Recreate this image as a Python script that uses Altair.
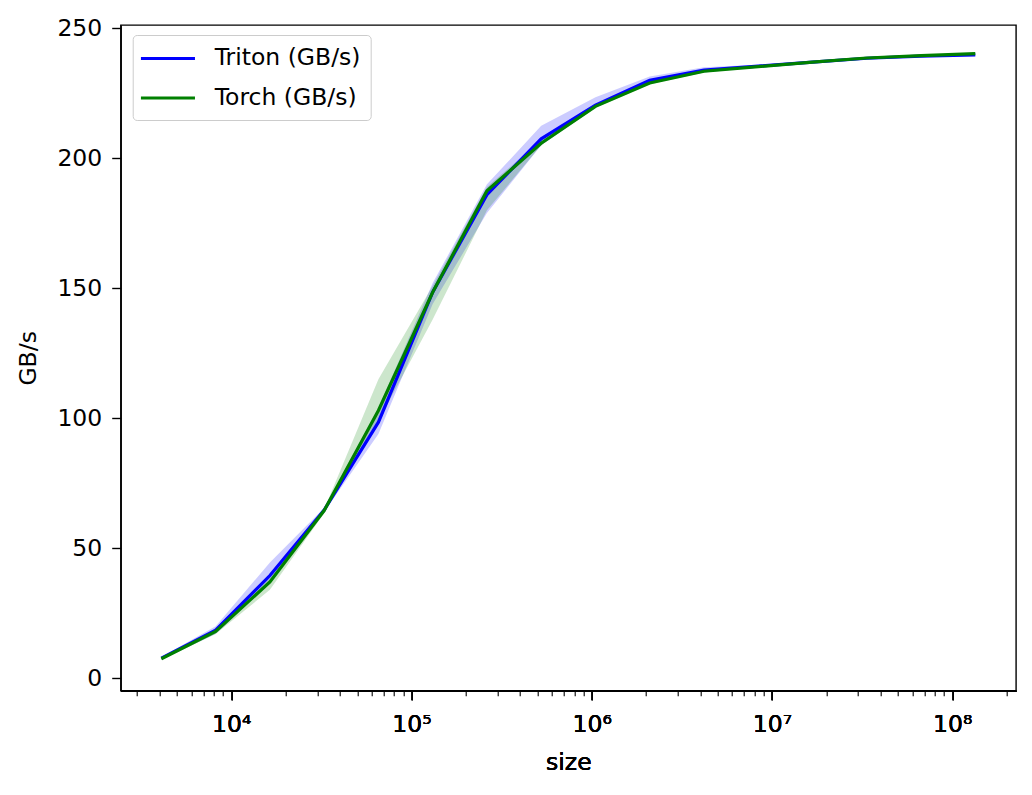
import pandas as pd
import altair as alt

# vector sizes (2^12 .. 2^27)
sizes = [4096, 8192, 16384, 32768, 65536, 131072, 262144, 524288,
         1048576, 2097152, 4194304, 8388608, 16777216, 33554432,
         67108864, 134217728]

triton = [7.7, 18.5, 39.5, 64.7, 98.5, 148.5, 186.0, 207.5,
          220.5, 230.0, 234.0, 235.5, 237.0, 238.5, 239.3, 239.8]
triton_lo = [7.2, 17.0, 36.5, 64.0, 94.0, 144.0, 179.0, 205.0,
             219.5, 229.0, 233.0, 235.0, 236.5, 238.0, 239.0, 239.6]
triton_hi = [8.2, 20.0, 44.5, 65.5, 104.0, 152.0, 190.0, 212.5,
             223.5, 231.5, 235.0, 236.0, 237.5, 239.0, 239.6, 240.0]

torch = [7.5, 18.0, 37.0, 64.5, 103.0, 148.5, 187.5, 205.8,
         220.0, 229.0, 233.5, 235.3, 237.0, 238.6, 239.5, 240.3]
torch_lo = [7.0, 17.0, 34.0, 63.5, 99.0, 138.0, 180.0, 205.0,
            219.5, 228.5, 233.0, 235.0, 236.6, 238.3, 239.2, 240.0]
torch_hi = [8.0, 19.0, 40.0, 65.0, 115.0, 151.0, 189.0, 207.0,
            220.5, 229.5, 234.0, 235.6, 237.4, 238.9, 239.8, 240.6]

names = ['Triton (GB/s)', 'Torch (GB/s)']
colors = ['#0000ff', '#008000']

major_ticks = [1e4, 1e5, 1e6, 1e7, 1e8]
minor_ticks = [m * 10 ** e for e in range(3, 9) for m in range(2, 10)
               if 2436 <= m * 10 ** e <= 2.25e8]

df = pd.concat([
    pd.DataFrame({'size': sizes, 'gbps': triton, 'lo': triton_lo,
                  'hi': triton_hi, 'provider': names[0]}),
    pd.DataFrame({'size': sizes, 'gbps': torch, 'lo': torch_lo,
                  'hi': torch_hi, 'provider': names[1]}),
])

FONT = 'DejaVu Sans'
FS = 23.5

xscale = alt.Scale(type='log', domain=[2436, 2.258e8], nice=False)
yscale = alt.Scale(domain=[-4.8, 251.3], nice=False, zero=False)

sup = "{'4':'⁴','5':'⁵','6':'⁶','7':'⁷','8':'⁸'}"
x_major = alt.Axis(values=major_ticks, orient='bottom', title='size',
                   labelExpr="'10' + " + sup + "[format(log(datum.value)/log(10), '.0f')]",
                   tickSize=9, tickWidth=1.4, labelPadding=13, titlePadding=14,
                   grid=False, domainColor='black', domainWidth=1.4, tickColor='black')
x_minor = alt.Axis(values=minor_ticks, orient='bottom', labels=False, title=None,
                   tickSize=5, tickWidth=1.1, grid=False, domain=False, tickColor='black')
y_axis = alt.Axis(values=[0, 50, 100, 150, 200, 250], title='GB/s', tickSize=9,
                  tickWidth=1.4, labelPadding=10, titlePadding=16, grid=False,
                  domainColor='black', domainWidth=1.4, tickColor='black')

base = alt.Chart(df)

layers = []
for name, c in zip(names, colors):
    layers.append(base.transform_filter(alt.datum.provider == name).mark_area(
        opacity=0.2, color=c).encode(
        x=alt.X('size:Q', scale=xscale, axis=x_major),
        y=alt.Y('lo:Q', scale=yscale, axis=y_axis),
        y2='hi:Q',
    ))

color = alt.Color('provider:N', scale=alt.Scale(domain=names, range=colors),
                  sort=names,
                  legend=alt.Legend(title=None, orient='none', legendX=12, legendY=10,
                                    symbolType='M-1.3,0H3.3', symbolSize=552,
                                    symbolStrokeWidth=3, labelFontSize=FS,
                                    labelFont=FONT, labelColor='black',
                                    labelOffset=45, rowPadding=14.5, padding=10,
                                    fillColor='rgba(255,255,255,0.8)',
                                    strokeColor='#cccccc', cornerRadius=4))

for name in names:
    layers.append(base.transform_filter(alt.datum.provider == name).mark_line(strokeWidth=3.2).encode(
        x=alt.X('size:Q', scale=xscale, axis=x_major),
        y=alt.Y('gbps:Q', scale=yscale, axis=y_axis),
        color=color,
    ))

minor = base.mark_line(opacity=0).encode(
    x=alt.X('size:Q', scale=xscale, axis=x_minor),
    y=alt.Y('gbps:Q', scale=yscale, axis=y_axis),
)

chart = alt.layer(*layers, minor).resolve_axis(x='independent').properties(
    width=895.3, height=665.7,
    autosize=alt.AutoSizeParams(type='none'),
    padding={'left': 112.7, 'top': 17, 'right': 8, 'bottom': 84},
).configure_view(
    stroke='black', strokeWidth=1.4
).configure_axis(
    labelFont=FONT, titleFont=FONT, labelFontSize=FS, titleFontSize=FS,
    labelColor='black', titleColor='black', titleFontWeight='normal'
)

chart.save("out.html", embed_options={"renderer": "svg", "actions": False})
